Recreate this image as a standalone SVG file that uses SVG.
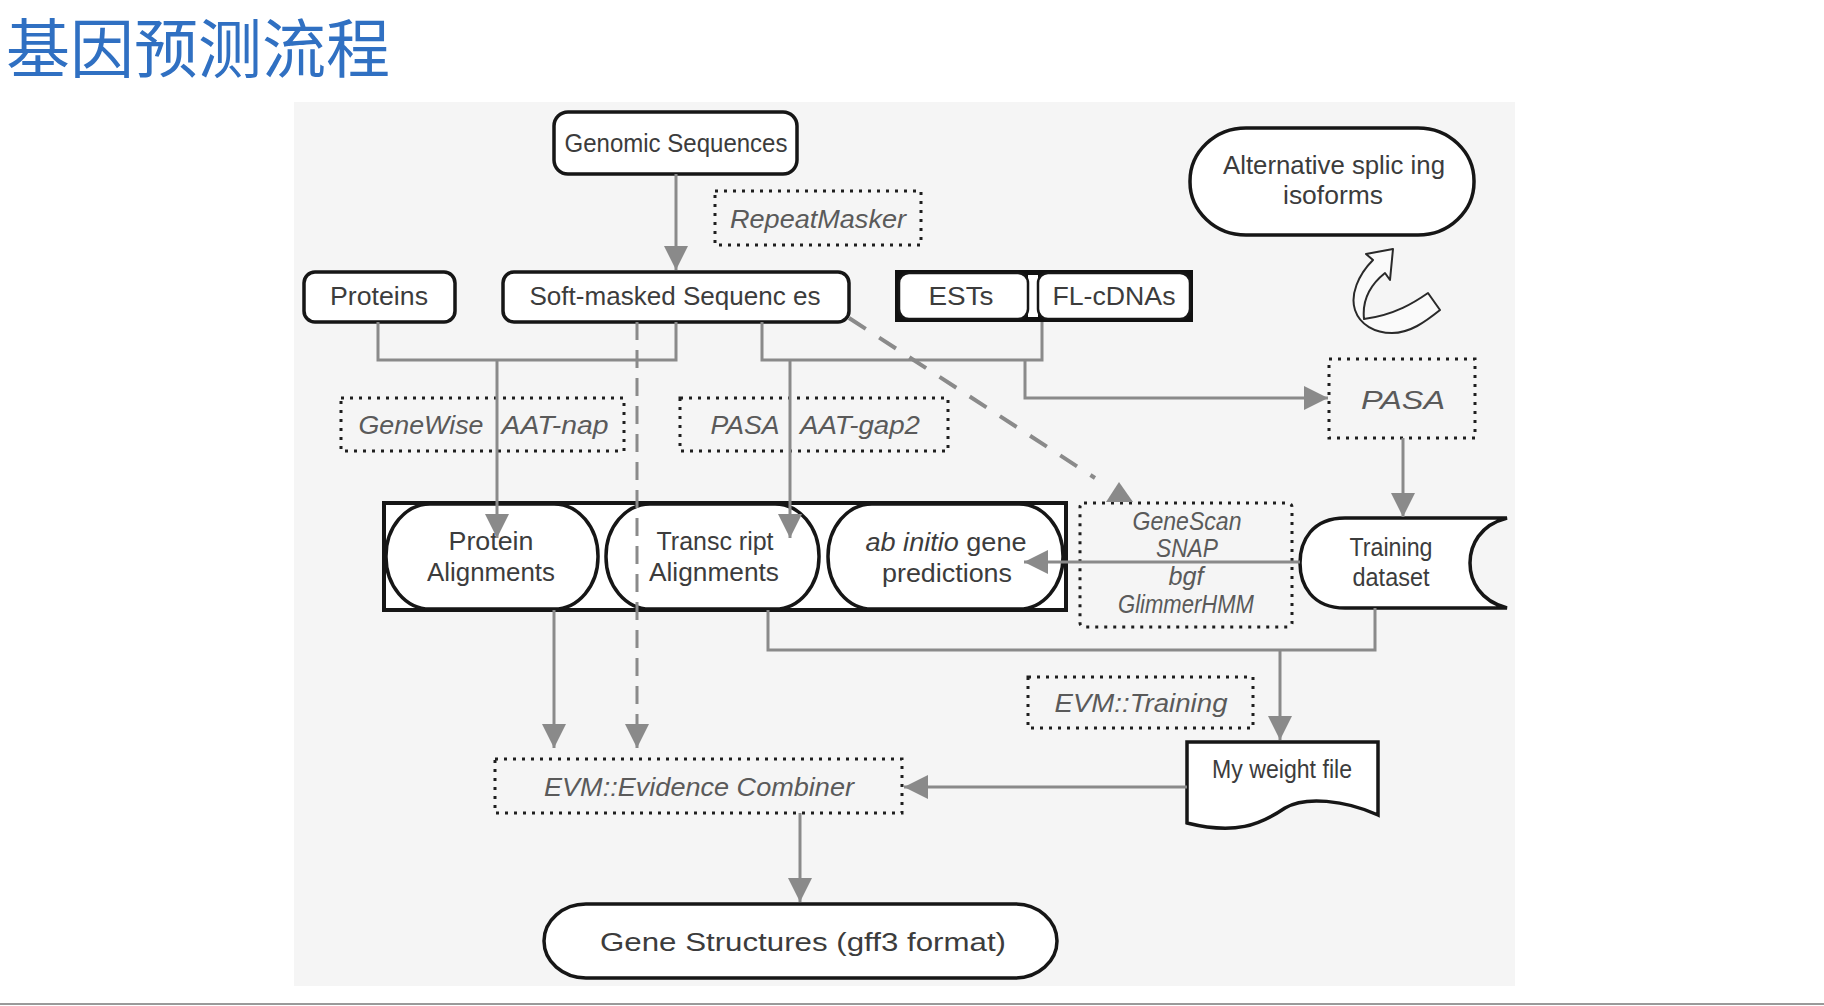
<svg xmlns="http://www.w3.org/2000/svg" width="1824" height="1006" viewBox="0 0 1824 1006">
<defs>
<style>
.t{font-family:"Liberation Sans",Arial,"Noto Sans",sans-serif;fill:#3c3c3c;font-size:26px;text-anchor:middle}
.it{font-family:"Liberation Sans",Arial,"Noto Sans",sans-serif;fill:#5a5a5a;font-style:italic;font-size:26px;text-anchor:middle}
.node{fill:#ffffff;stroke:#161616;stroke-width:3.5}
.dot{fill:none;stroke:#1e1e1e;stroke-width:3;stroke-dasharray:3 6}
.c{fill:none;stroke:#8a8a8a;stroke-width:3}
.cd{fill:none;stroke:#8a8a8a;stroke-width:3;stroke-dasharray:18 10}
.cdd{fill:none;stroke:#8a8a8a;stroke-width:4;stroke-dasharray:20 16}
.ah{fill:#8a8a8a}
</style>
<marker id="arr" markerUnits="userSpaceOnUse" markerWidth="25" markerHeight="24" refX="24" refY="12" orient="auto">
<path d="M0,0 L24,12 L0,24 z" class="ah"/>
</marker>
</defs>
<rect x="0" y="0" width="1824" height="1006" fill="#ffffff"/>
<text x="6" y="72" font-family="'Noto Sans CJK SC','Noto Sans CJK JP',sans-serif" font-size="64" fill="#3070c2">基因预测流程</text>
<rect x="294" y="102" width="1221" height="884" fill="#f5f5f5"/>
<line x1="0" y1="1004" x2="1824" y2="1004" stroke="#9a9a9a" stroke-width="2"/>

<g id="genomic">
<rect class="node" x="554" y="112" width="243" height="62" rx="14"/>
<text class="t" x="676" y="152" font-size="28" textLength="223" lengthAdjust="spacingAndGlyphs">Genomic Sequences</text>
</g>
<g id="repeatmasker">
<rect class="dot" x="715" y="191" width="206" height="54"/>
<text class="it" x="818" y="228" textLength="176" lengthAdjust="spacingAndGlyphs">RepeatMasker</text>
</g>
<g id="proteins">
<rect class="node" x="304" y="272" width="151" height="50" rx="11"/>
<text class="t" x="379" y="305" font-size="27" textLength="98" lengthAdjust="spacingAndGlyphs">Proteins</text>
</g>
<g id="softmasked">
<rect class="node" x="503" y="272" width="346" height="50" rx="11"/>
<text class="t" x="675" y="305" font-size="27" textLength="291" lengthAdjust="spacingAndGlyphs">Soft-masked Sequenc es</text>
</g>
<g id="ests-flcdnas">
<rect x="895" y="270" width="298" height="52" fill="#111"/>
<rect x="1028" y="275" width="10" height="42" fill="#fff"/>
<rect x="899" y="273" width="129" height="46" rx="10" fill="#fff" stroke="#161616" stroke-width="2.5"/>
<rect x="1038" y="273" width="152" height="46" rx="10" fill="#fff" stroke="#161616" stroke-width="2.5"/>
<text class="t" x="961" y="305" font-size="27" textLength="65" lengthAdjust="spacingAndGlyphs">ESTs</text>
<text class="t" x="1114" y="305" font-size="27" textLength="123" lengthAdjust="spacingAndGlyphs">FL-cDNAs</text>
</g>
<g id="altsplicing">
<rect class="node" x="1190" y="128" width="284" height="107" rx="56" ry="53" stroke-width="4"/>
<text class="t" x="1334" y="174" textLength="222" lengthAdjust="spacingAndGlyphs">Alternative splic ing</text>
<text class="t" x="1333" y="204" textLength="100" lengthAdjust="spacingAndGlyphs">isoforms</text>
</g>
<g id="curved-arrow">
<path d="M1393,249 L1366,254 L1373,260 C1358,275 1350,295 1355,310 C1360,325 1375,333 1392,333 C1410,333 1425,322 1440,310 L1428,293 C1415,302 1395,315 1364,319 C1362,300 1370,285 1385,273 L1390,280 Z" fill="#fafafa" stroke="#2a2a2a" stroke-width="2" stroke-linejoin="round"/>
</g>
<g id="pasa">
<rect class="dot" x="1329" y="359" width="146" height="79"/>
<text class="it" x="1403" y="409" font-size="32" textLength="84" lengthAdjust="spacingAndGlyphs">PASA</text>
</g>
<g id="genewise">
<rect class="dot" x="341" y="398" width="283" height="53"/>
<text class="it" x="421" y="434" textLength="125" lengthAdjust="spacingAndGlyphs">GeneWise</text>
<text class="it" x="555" y="434" textLength="107" lengthAdjust="spacingAndGlyphs">AAT-nap</text>
</g>
<g id="pasa-aat">
<rect class="dot" x="680" y="398" width="268" height="53"/>
<text class="it" x="745" y="434" textLength="69" lengthAdjust="spacingAndGlyphs">PASA</text>
<text class="it" x="860" y="434" textLength="120" lengthAdjust="spacingAndGlyphs">AAT-gap2</text>
</g>
<g id="alignments">
<rect x="384" y="503" width="682" height="107" fill="#fff" stroke="#161616" stroke-width="4"/>
<g id="protein-alignments">
<rect class="node" x="386" y="504" width="212" height="105" rx="44" ry="52" stroke-width="3"/>
<text class="t" x="491" y="550" textLength="85" lengthAdjust="spacingAndGlyphs">Protein</text>
<text class="t" x="491" y="581" textLength="128" lengthAdjust="spacingAndGlyphs">Alignments</text>
</g>
<g id="transcript-alignments">
<rect class="node" x="606" y="504" width="213" height="105" rx="44" ry="52" stroke-width="3"/>
<text class="t" x="715" y="550" textLength="117" lengthAdjust="spacingAndGlyphs">Transc ript</text>
<text class="t" x="714" y="581" textLength="130" lengthAdjust="spacingAndGlyphs">Alignments</text>
</g>
<g id="abinitio">
<rect class="node" x="828" y="504" width="235" height="105" rx="44" ry="52" stroke-width="3"/>
<text class="t" x="946" y="551" textLength="161" lengthAdjust="spacingAndGlyphs"><tspan font-style="italic">ab initio</tspan> gene</text>
<text class="t" x="947" y="582" textLength="130" lengthAdjust="spacingAndGlyphs">predictions</text>
</g>
</g>
<g id="genescan">
<rect class="dot" x="1080" y="503" width="212" height="124" rx="4"/>
<text class="it" x="1187" y="530" font-size="19" textLength="109" lengthAdjust="spacingAndGlyphs">GeneScan</text>
<text class="it" x="1187" y="557" font-size="19" textLength="62" lengthAdjust="spacingAndGlyphs">SNAP</text>
<text class="it" x="1186" y="585" font-size="19" textLength="35" lengthAdjust="spacingAndGlyphs">bgf</text>
<text class="it" x="1186" y="613" font-size="19" textLength="136" lengthAdjust="spacingAndGlyphs">GlimmerHMM</text>
</g>
<g id="training">
<path class="node" d="M1345,518 L1507,518 C1480,525 1470,545 1470,563 C1470,581 1480,601 1507,608 L1345,608 C1312,608 1300,585 1300,563 C1300,541 1312,518 1345,518 Z" stroke-width="3"/>
<text class="t" x="1391" y="556" font-size="22" textLength="83" lengthAdjust="spacingAndGlyphs">Training</text>
<text class="t" x="1391" y="586" font-size="22" textLength="77" lengthAdjust="spacingAndGlyphs">dataset</text>
</g>
<g id="evm-training">
<rect class="dot" x="1028" y="677" width="225" height="51"/>
<text class="it" x="1141" y="712" textLength="173" lengthAdjust="spacingAndGlyphs">EVM::Training</text>
</g>
<g id="weightfile">
<path class="node" d="M1187,742 H1378 V815 C1345,800 1305,796 1285,808 C1260,825 1235,835 1187,823 Z" stroke-width="3"/>
<text class="t" x="1282" y="778" textLength="140" lengthAdjust="spacingAndGlyphs">My weight file</text>
</g>
<g id="evm-combiner">
<rect class="dot" x="495" y="759" width="407" height="54"/>
<text class="it" x="699" y="796" textLength="310" lengthAdjust="spacingAndGlyphs">EVM::Evidence Combiner</text>
</g>
<g id="gene-structures">
<rect class="node" x="544" y="904" width="513" height="74" rx="42" ry="37" stroke-width="4"/>
<text class="t" x="803" y="951" font-size="33" textLength="406" lengthAdjust="spacingAndGlyphs">Gene Structures (gff3 format)</text>
</g>

<g id="connectors">
<path class="c" d="M676,174 V270" marker-end="url(#arr)"/>
<path class="c" d="M378,322 V360 H676 V322"/>
<path class="c" d="M497,360 V538" marker-end="url(#arr)"/>
<path class="c" d="M762,322 V360 H1042 V322"/>
<path class="c" d="M790,360 V538" marker-end="url(#arr)"/>
<path class="c" d="M1025,360 V398 H1328" marker-end="url(#arr)"/>
<path class="c" d="M1403,438 V517" marker-end="url(#arr)"/>
<path class="c" d="M1300,562 H1024" marker-end="url(#arr)"/>
<path class="c" d="M768,610 V650 H1375 V608"/>
<path class="c" d="M1280,650 V740" marker-end="url(#arr)"/>
<path class="c" d="M1187,787 H904" marker-end="url(#arr)"/>
<path class="c" d="M554,610 V748" marker-end="url(#arr)"/>
<path class="cd" d="M637,322 V748" marker-end="url(#arr)"/>
<path class="cdd" d="M849,318 L1095,478"/>
<polygon class="ah" points="1119,482 1133,502 1106,502"/>
<path class="c" d="M800,813 V902" marker-end="url(#arr)"/>
</g>
</svg>
